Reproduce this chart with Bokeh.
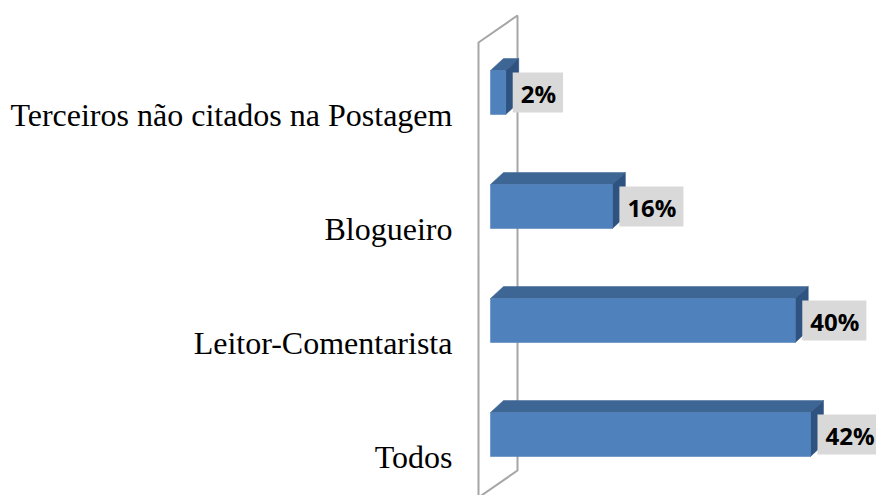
from bokeh.plotting import figure
from bokeh.models import Range1d, ColumnDataSource
from bokeh.core.properties import value
from bokeh.embed import file_html
from bokeh.resources import INLINE

# ---- data (bottom to top) ----
categories = ["Todos", "Leitor-Comentarista", "Blogueiro", "Terceiros não citados na Postagem"]
percent = [42, 40, 16, 2]
value_labels = ["42%", "40%", "16%", "2%"]

# ---- geometry ----
W, H = 876, 495
X0, X1 = -64.3, 50.66
Y0, Y1 = -0.535, 3.807
px_x = W / (X1 - X0)
px_y = H / (Y1 - Y0)

bar_h = 44 / px_y
dx = 13 / px_x
dy = 12 / px_y

ypos = list(range(len(categories)))

p = figure(width=W, height=H, x_range=Range1d(X0, X1), y_range=Range1d(Y0, Y1),
           output_backend="svg", toolbar_location=None, min_border=0,
           x_axis_location=None, y_axis_location=None)
p.grid.visible = False
p.outline_line_color = None
p.background_fill_color = "white"
p.border_fill_color = "white"

# ---- back wall (3D frame) ----
def dxp(xp):
    return X0 + xp / px_x

def dyp(yp):
    return Y1 - yp / px_y

wall_x = [dxp(478), dxp(517), dxp(517), dxp(478)]
wall_y = [dyp(42), dyp(15), dyp(470), dyp(497)]
p.patch(wall_x + [wall_x[0]], wall_y + [wall_y[0]], fill_color=None,
        line_color="#a6a6a6", line_width=2)

# ---- bars ----
top_xs, top_ys, side_xs, side_ys = [], [], [], []
for v, y in zip(percent, ypos):
    yt = y + bar_h / 2
    yb = y - bar_h / 2
    top_xs.append([0, v, v + dx, dx])
    top_ys.append([yt, yt, yt + dy, yt + dy])
    side_xs.append([v, v + dx, v + dx, v])
    side_ys.append([yb, yb + dy, yt + dy, yt])

p.patches(top_xs, top_ys, fill_color="#3e6695", line_color="#3e6695", line_width=0.5)
p.patches(side_xs, side_ys, fill_color="#2f5380", line_color="#2f5380", line_width=0.5)

src = ColumnDataSource(dict(y=ypos, right=percent, cat=categories, lab=value_labels,
                            base=[y - bar_h / 2 for y in ypos]))
p.hbar(y="y", left=0, right="right", height=bar_h, source=src,
       fill_color="#4f81bd", line_color="#4a7bb5", line_width=0.5)

# ---- category labels ----
p.text(x=0, y="base", text="cat", source=src, x_offset=-38,
       text_align="right", text_baseline="alphabetic",
       text_font=value("Liberation Serif"), text_font_size="32px", text_color="black")

# ---- value labels ----
p.text(x="right", y="y", text="lab", source=src, x_offset=7,
       text_align="left", text_baseline="middle",
       text_font=value("Open Sans"), text_font_style="bold", text_font_size="24px",
       text_color="black", background_fill_color="#d9d9d9",
       padding=dict(left=8, right=7, top=4, bottom=3))

open("out.html", "w").write(file_html(p, INLINE))
